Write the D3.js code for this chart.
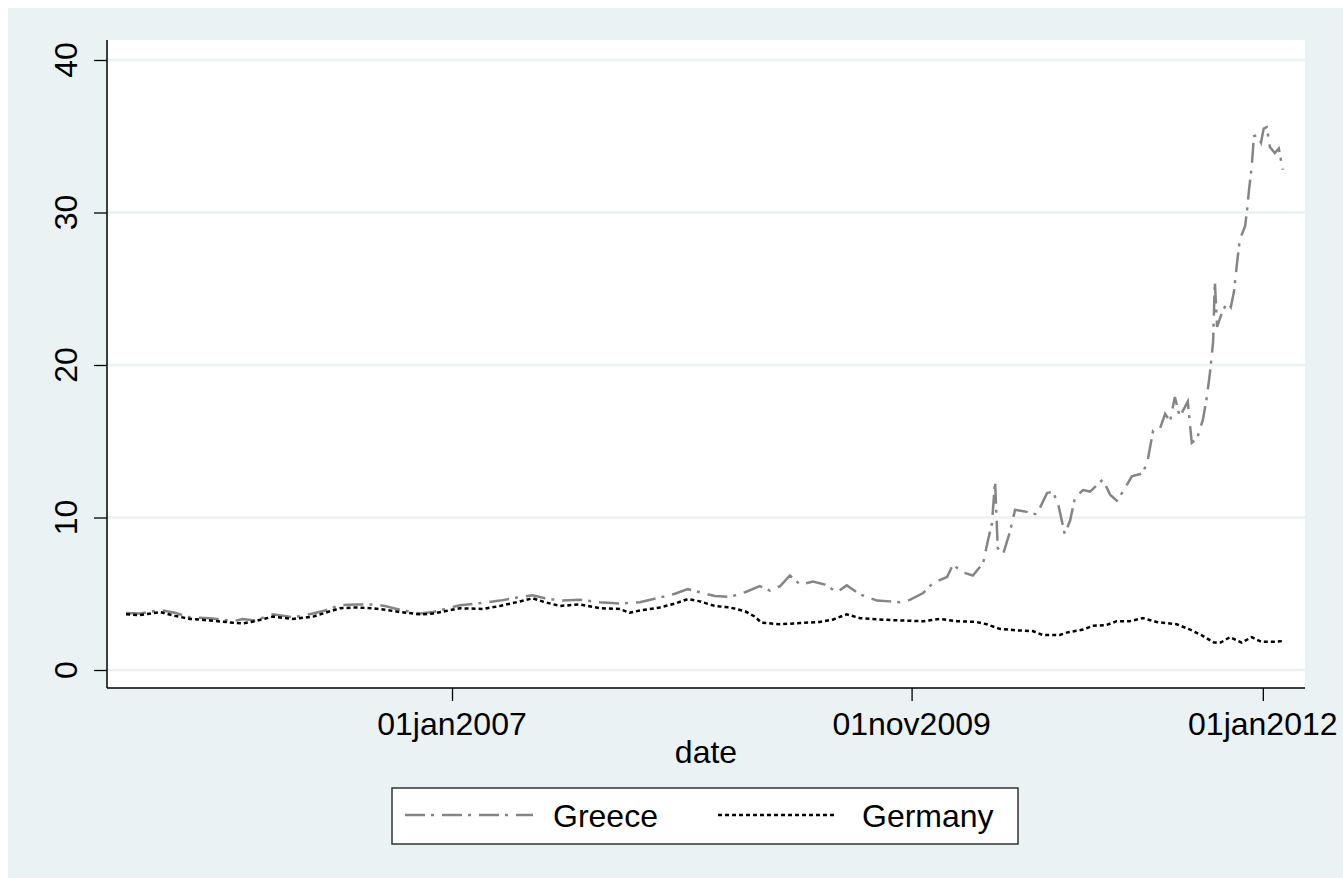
<!DOCTYPE html>
<html>
<head>
    <meta charset="utf-8">
    <title>Greece vs Germany</title>
    <script src="https://cdn.jsdelivr.net/npm/d3@7"></script>
    <style>
        body { margin: 0; background: #fff; }
        text { font-family: "Liberation Sans", Arial, sans-serif; fill: #000; }
    </style>
</head>
<body>
<div id="chart"></div>
<script>
    // 10y government bond yields
    var greeceDates = ["2004-12-28","2005-01-28","2005-03-15","2005-04-17","2005-05-21","2005-07-05","2005-08-26","2005-09-17","2005-10-14","2005-11-24",
        "2006-01-08","2006-02-22","2006-03-21","2006-04-24","2006-05-28","2006-07-07","2006-08-03","2006-09-06","2006-10-21","2006-11-19",
        "2007-01-19","2007-03-12","2007-04-19","2007-05-27","2007-07-02","2007-07-29","2007-09-01","2007-10-16","2007-11-30",
        "2008-01-14","2008-02-28","2008-04-13","2008-05-17","2008-06-15","2008-07-12","2008-08-15","2008-09-18","2008-10-22","2008-11-24","2008-12-17",
        "2009-01-09","2009-01-31","2009-02-23","2009-03-24","2009-04-20","2009-05-17","2009-06-08","2009-07-08","2009-08-15","2009-09-13","2009-10-06","2009-10-28","2009-11-27","2009-12-19",
        "2010-01-20","2010-02-02","2010-02-25","2010-03-19","2010-04-11","2010-04-22","2010-05-01","2010-05-08","2010-05-14","2010-05-26","2010-06-10","2010-06-22","2010-07-14","2010-08-10","2010-09-02","2010-09-15","2010-09-27","2010-10-12","2010-10-24","2010-11-04","2010-11-22","2010-12-08",
        "2011-01-06","2011-01-22","2011-02-06","2011-02-20","2011-03-12","2011-04-06","2011-04-17","2011-04-29","2011-05-14","2011-05-26","2011-06-06","2011-06-17","2011-06-28","2011-07-16","2011-07-25","2011-08-06","2011-08-19","2011-08-28","2011-09-04","2011-09-11","2011-09-15","2011-09-20","2011-10-03","2011-10-14","2011-10-21","2011-10-28","2011-11-04","2011-11-10","2011-11-22","2011-11-26","2011-12-01","2011-12-07","2011-12-12","2011-12-21","2011-12-28",
        "2012-01-03","2012-01-10","2012-01-17","2012-01-28","2012-02-06","2012-02-15"];
    var greeceYields = [3.74,3.7,3.93,3.75,3.45,3.4,3.2,3.35,3.25,3.65,
        3.45,3.7,3.9,4.25,4.3,4.3,4.2,3.95,3.7,3.8,
        4.25,4.4,4.55,4.75,4.9,4.7,4.55,4.6,4.45,
        4.35,4.45,4.75,5.0,5.3,5.1,4.85,4.8,5.1,5.5,5.2,
        5.5,6.2,5.6,5.8,5.6,5.1,5.55,4.95,4.55,4.5,4.45,4.6,5.05,5.7,
        6.1,6.9,6.4,6.2,7.0,8.5,9.6,12.4,8.0,7.6,9.0,10.5,10.4,10.2,11.6,11.7,10.9,8.9,9.8,11.3,11.8,11.7,
        12.5,11.5,11.1,11.7,12.7,12.9,13.8,15.7,15.8,16.8,16.3,17.9,16.6,17.6,14.9,15.2,16.4,17.9,19.5,21.5,25.5,22.5,23.6,24.1,23.8,24.8,26.7,28.2,29.1,30.0,31.5,33.0,35.0,35.1,34.6,
        35.5,35.6,34.3,33.9,34.2,32.8];

    var germanyDates = ["2004-12-28","2005-01-28","2005-03-15","2005-04-17","2005-05-21","2005-07-05","2005-08-26","2005-09-17","2005-10-14","2005-11-24",
        "2006-01-08","2006-02-22","2006-03-21","2006-04-24","2006-05-28","2006-07-07","2006-08-03","2006-09-06","2006-10-21","2006-11-19",
        "2007-01-19","2007-03-12","2007-04-19","2007-05-27","2007-07-02","2007-07-29","2007-09-01","2007-10-16","2007-11-30",
        "2008-01-14","2008-02-05","2008-02-28","2008-04-13","2008-05-17","2008-06-15","2008-07-12","2008-08-15","2008-09-18","2008-10-22","2008-11-13","2008-11-28",
        "2009-01-09","2009-02-23","2009-04-08","2009-05-07","2009-06-08","2009-07-08","2009-08-29","2009-10-06","2009-11-27",
        "2010-01-03","2010-02-11","2010-03-27","2010-04-19","2010-05-18","2010-06-25","2010-08-01","2010-08-23","2010-10-01","2010-10-16","2010-11-22","2010-12-14",
        "2011-01-14","2011-02-06","2011-03-07","2011-04-06","2011-05-07","2011-06-21","2011-07-21","2011-08-15","2011-09-13","2011-09-28","2011-10-19","2011-11-14","2011-12-07","2011-12-29",
        "2012-01-28","2012-02-15"];
    var germanyYields = [3.65,3.6,3.8,3.55,3.35,3.25,3.1,3.05,3.2,3.5,
        3.35,3.5,3.75,4.05,4.1,4.05,3.95,3.8,3.65,3.7,
        4.05,4.0,4.2,4.45,4.7,4.45,4.2,4.3,4.05,
        4.0,3.75,3.9,4.1,4.35,4.65,4.5,4.2,4.1,3.85,3.5,3.1,
        3.0,3.08,3.15,3.3,3.65,3.4,3.3,3.25,3.2,
        3.35,3.2,3.15,3.0,2.7,2.6,2.55,2.3,2.3,2.45,2.65,2.9,
        2.95,3.2,3.2,3.4,3.15,3.0,2.65,2.3,1.8,1.8,2.15,1.8,2.15,1.85,
        1.85,1.9];

    var yTicks = [0, 10, 20, 30, 40];
    var xTicks = ["2007-01-01", "2009-11-01", "2012-01-01"];
    var xRange = ["2004-11-15", "2012-04-05"];
    var seriesNames = ["Greece", "Germany"];

    var width = 1343,
        height = 878;

    var parse = d3.timeParse("%Y-%m-%d");
    var fmt = d3.timeFormat("%d%b%Y");

    var svg = d3.select("#chart").append("svg")
        .attr("width", width)
        .attr("height", height);

    // graph region background
    svg.append("rect")
        .attr("x", 8).attr("y", 8)
        .attr("width", width - 8).attr("height", height - 8)
        .attr("fill", "#eaf2f3");

    var plotLeft = 107, plotRight = 1305, plotTop = 40, plotBottom = 688;

    svg.append("rect")
        .attr("x", plotLeft).attr("y", plotTop)
        .attr("width", plotRight - plotLeft).attr("height", plotBottom - plotTop)
        .attr("fill", "#fff");

    var x = d3.scaleTime()
        .domain(xRange.map(parse))
        .range([plotLeft, plotRight]);

    var y = d3.scaleLinear()
        .domain([0, 40])
        .range([670, 60]);

    // gridlines
    svg.append("g").selectAll("line").data(yTicks).enter()
        .append("line")
        .attr("x1", plotLeft).attr("x2", plotRight)
        .attr("y1", function(d){return y(d);})
        .attr("y2", function(d){return y(d);})
        .attr("stroke", "#eaf2f3")
        .attr("stroke-width", 2.5);

    // y axis
    var yAxis = svg.append("g")
        .attr("transform", "translate(" + plotLeft + ",0)")
        .call(d3.axisLeft(y).tickValues(yTicks).tickSize(13).tickFormat(""));
    yAxis.select(".domain").remove();
    yAxis.selectAll(".tick line").attr("stroke", "#000").attr("stroke-width", 1.3);

    svg.append("g").selectAll("text").data(yTicks).enter()
        .append("text")
        .attr("transform", function(d){return "translate(77," + y(d) + ") rotate(-90)";})
        .attr("text-anchor", "middle")
        .style("font-size", "32px")
        .text(function(d){return d;});

    // x axis
    var xAxis = svg.append("g")
        .attr("transform", "translate(0," + plotBottom + ")")
        .call(d3.axisBottom(x).tickValues(xTicks.map(parse)).tickSize(13).tickFormat(""));
    xAxis.select(".domain").remove();
    xAxis.selectAll(".tick line").attr("stroke", "#000").attr("stroke-width", 1.3);

    svg.append("g").selectAll("text").data(xTicks).enter()
        .append("text")
        .attr("x", function(d){return x(parse(d));})
        .attr("y", 735)
        .attr("text-anchor", "middle")
        .style("font-size", "32px")
        .text(function(d){return fmt(parse(d)).toLowerCase();});

    svg.append("text")
        .attr("x", (plotLeft + plotRight) / 2)
        .attr("y", 763)
        .attr("text-anchor", "middle")
        .style("font-size", "32px")
        .text("date");

    // axis lines
    svg.append("line")
        .attr("x1", plotLeft).attr("x2", plotLeft).attr("y1", plotTop).attr("y2", plotBottom)
        .attr("stroke", "#000").attr("stroke-width", 1.5);
    svg.append("line")
        .attr("x1", plotLeft).attr("x2", plotRight).attr("y1", plotBottom).attr("y2", plotBottom)
        .attr("stroke", "#000").attr("stroke-width", 1.5);

    // series
    var line = d3.line()
        .x(function(d){return x(d[0]);})
        .y(function(d){return y(d[1]);});

    var greece = greeceDates.map(function(d, i){return [parse(d), greeceYields[i]];});
    var germany = germanyDates.map(function(d, i){return [parse(d), germanyYields[i]];});

    var styles = [
        {color: "#858585", dash: "20,6,3,8"},
        {color: "#000", dash: "4,3"}
    ];

    svg.append("path")
        .datum(greece)
        .attr("d", line)
        .attr("fill", "none")
        .attr("stroke", styles[0].color)
        .attr("stroke-width", 2.5)
        .attr("stroke-dasharray", styles[0].dash);

    svg.append("path")
        .datum(germany)
        .attr("d", line)
        .attr("fill", "none")
        .attr("stroke", styles[1].color)
        .attr("stroke-width", 2.5)
        .attr("stroke-dasharray", styles[1].dash);

    // legend
    var legend = svg.append("g");
    legend.append("rect")
        .attr("x", 392).attr("y", 788)
        .attr("width", 626).attr("height", 56)
        .attr("fill", "#fff")
        .attr("stroke", "#333")
        .attr("stroke-width", 1.5);

    var legX = [[405, 533, 553], [718, 836, 862]];
    seriesNames.forEach(function(name, i){
        legend.append("line")
            .attr("x1", legX[i][0]).attr("x2", legX[i][1])
            .attr("y1", 815).attr("y2", 815)
            .attr("stroke", styles[i].color)
            .attr("stroke-width", 2.5)
            .attr("stroke-dasharray", styles[i].dash);
        legend.append("text")
            .attr("x", legX[i][2])
            .attr("y", 827)
            .style("font-size", "32px")
            .text(name);
    });
</script>
</body>
</html>
